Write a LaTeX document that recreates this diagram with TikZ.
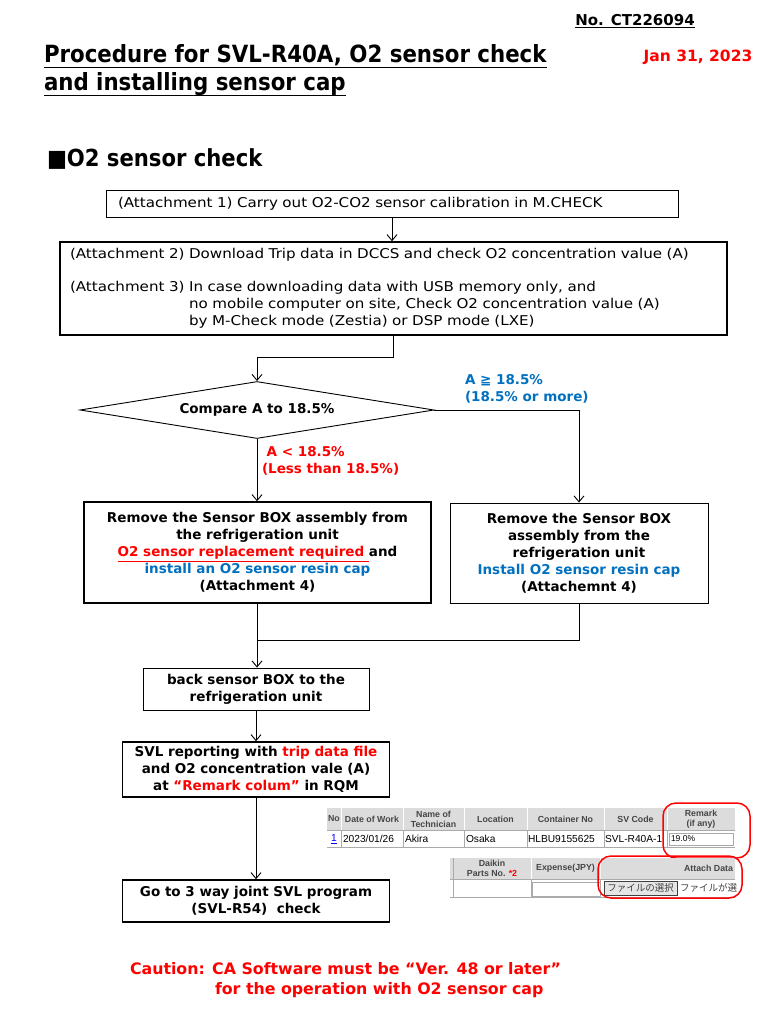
\documentclass[tikz,border=0pt]{standalone}
\usepackage{fontspec}
\setmainfont{DejaVu Sans}
\newfontfamily\widefont{DejaVu Sans}[FakeStretch=1.12]
\newfontfamily\condfont{DejaVu Sans Condensed}
\newfontfamily\arialf{Liberation Sans}
\newfontfamily\cjkf{Noto Sans CJK JP}
\usetikzlibrary{shapes.geometric,arrows.meta}
\definecolor{dred}{RGB}{255,0,0}
\definecolor{dblue}{RGB}{0,112,192}
\definecolor{hdr}{RGB}{220,220,220}
\definecolor{grid}{RGB}{170,170,170}
\definecolor{htext}{RGB}{70,70,70}
\tikzset{
  plain/.style={inner sep=0pt, outer sep=0pt},
  boxthin/.style={draw, line width=0.9pt, inner sep=0pt, align=center},
  boxthick/.style={draw, line width=1.5pt, inner sep=0pt, align=center},
  rtext/.style={font=\widefont\fontsize{13.5}{17}\selectfont},
  btext/.style={font=\bfseries\fontsize{13.5}{17}\selectfont},
  conn/.style={line width=0.9pt},
  arr/.style={line width=0.9pt, -{Straight Barb[length=6pt,width=10pt,line width=0.9pt]}},
  hfont/.style={plain, font=\arialf\bfseries\fontsize{8.8}{9.8}\selectfont, text=htext, align=center},
  dfont/.style={plain, font=\arialf\fontsize{10.2}{12}\selectfont},
  redring/.style={draw=dred, line width=1.5pt, rounded corners=13pt},
}
\begin{document}
\begin{tikzpicture}[x=1pt,y=-1pt]
\useasboundingbox (0,0) rectangle (768,1024);
\fill[white] (0,0) rectangle (768,1024);

% header
\node[plain, font=\bfseries\fontsize{15}{17}\selectfont] (docno) at (635,21) {\underline{No. CT226094}};
\node[plain, anchor=base west, font=\condfont\bfseries\fontsize{23.7}{28}\selectfont] (t1) at (44,63) {Procedure for SVL-R40A, O2 sensor check};
\node[plain, anchor=base west, font=\condfont\bfseries\fontsize{23.7}{28}\selectfont] (t2) at (44,91) {and installing sensor cap};
\draw[line width=1.2pt] ([yshift=-4.5pt]t1.base west) -- ([yshift=-4.5pt]t1.base east);
\draw[line width=1.2pt] ([yshift=-4.5pt]t2.base west) -- ([yshift=-4.5pt]t2.base east);
\node[plain, text=dred, font=\bfseries\fontsize{15.5}{17}\selectfont] (date) at (698,57) {Jan 31, 2023};
\node[plain, anchor=base west, font=\condfont\bfseries\fontsize{23.5}{26}\selectfont] (sec) at (47,167) {■O2 sensor check};

% boxes
\node[boxthin, rtext, minimum width=572, minimum height=27, text width=548, align=left] (b1) at (392,203.5)
  {(Attachment 1) Carry out O2-CO2 sensor calibration in M.CHECK};
\node[boxthick, rtext, minimum width=667, minimum height=93, text width=647, align=left] (b2) at (393.5,288.5)
  {\begin{tabular}{@{}l@{ }l@{}}(Attachment 2) & Download Trip data in DCCS and check O2 concentration value (A)\\[16pt]
  (Attachment 3) & In case downloading data with USB memory only, and\\
   & no mobile computer on site, Check O2 concentration value (A)\\
   & by M-Check mode (Zestia) or DSP mode (LXE)\end{tabular}};

\node[draw, line width=0.9pt, diamond, aspect=6.2, minimum width=354, minimum height=57, inner sep=0pt, btext] (dm) at (257,410) {Compare A to 18.5\%};

\node[boxthick, btext, minimum width=347, minimum height=101] (lb) at (257.5,552.5)
  {Remove the Sensor BOX assembly from\\ the refrigeration unit\\
   {\color{dred}\underline{O2 sensor replacement required }}and\\
   {\color{dblue}install an O2 sensor resin cap}\\ (Attachment 4)};
\node[boxthin, btext, minimum width=258, minimum height=100] (rb) at (579,553)
  {Remove the Sensor BOX\\ assembly from the\\ refrigeration unit\\
   {\color{dblue}Install O2 sensor resin cap}\\ (Attachemnt 4)};

\node[boxthin, btext, minimum width=226, minimum height=42] (b3) at (256,689)
  {back sensor BOX to the\\ refrigeration unit};
\node[boxthick, btext, minimum width=267, minimum height=55] (b4) at (256,769.5)
  {SVL reporting with {\color{dred}trip data file}\\ and O2 concentration vale (A)\\ at {\color{dred}“Remark colum”} in RQM};
\node[boxthick, btext, minimum width=267, minimum height=42] (b5) at (256,901)
  {Go to 3 way joint SVL program\\ (SVL-R54)\ \ check};

% labels
\node[plain, anchor=west, text=dblue, btext, align=left] (lblhi) at (465,388.5) {A ≧ 18.5\%\\(18.5\% or more)};
\node[plain, anchor=west, text=dred, btext, align=left] (lbllo) at (262,460.5) {\ A < 18.5\%\\(Less than 18.5\%)};

% connectors
\coordinate (j1) at (393.5,357);
\coordinate (j2) at (257,640);
\draw[arr] (b1.south) -- (b1.south |- b2.north);
\draw[arr] (b2.south) -- (j1) -- (dm.north |- j1) -- (dm.north);
\draw[arr] (dm.east) -| (rb.north);
\draw[arr] (dm.south) -- (dm.south |- lb.north);
\draw[conn] (lb.south) -- (lb.south |- j2);
\draw[conn] (rb.south) |- (j2);
\draw[arr] (j2) -- (j2 |- b3.north);
\draw[arr] (b3.south) -- (b3.south |- b4.north);
\draw[arr] (b4.south) -- (b4.south |- b5.north);

% caution
\node[plain, text=dred, font=\bfseries\fontsize{15.8}{21}\selectfont, anchor=west] (caut1) at (130,969) {Caution: CA Software must be “Ver. 48 or later”};
\node[plain, text=dred, font=\bfseries\fontsize{15.8}{21}\selectfont, anchor=west] (caut2) at (215,990) {for the operation with O2 sensor cap};

% table 1 (RQM screenshot)
\fill[hdr] (327,808) rectangle (735,830);
\draw[grid, line width=0.6pt] (327,830) -- (735,830);
\draw[grid, line width=0.8pt] (327,847) -- (735,847);
\foreach \xx in {341,403,464,527,604,667} {\draw[white, line width=0.8pt] (\xx,808) -- (\xx,830); \draw[grid, line width=0.5pt] (\xx,830) -- (\xx,847);}
\node[hfont] (h1) at (334,819) {No};
\node[hfont] (h2) at (372,819) {Date of Work};
\node[hfont] (h3) at (433.5,819) {Name of\\Technician};
\node[hfont] (h4) at (495.5,819) {Location};
\node[hfont] (h5) at (565.5,819) {Container No};
\node[hfont] (h6) at (635.5,819) {SV Code};
\node[hfont] (h7) at (701,819) {Remark\\(if any)};
\node[dfont, text=blue] (d1) at (334,839) {\underline{1}};
\node[dfont, anchor=west] (d2) at (343,839) {2023/01/26};
\node[dfont, anchor=west] (d3) at (405,839) {Akira};
\node[dfont, anchor=west] (d4) at (466,839) {Osaka};
\node[dfont, anchor=west] (d5) at (528,839) {HLBU9155625};
\node[dfont, anchor=west] (d6) at (605,839) {SVL-R40A-1};
\draw[grid, line width=0.6pt] (669,833) rectangle (733,845);
\node[plain, font=\arialf\fontsize{8.5}{9}\selectfont, anchor=west] (d7) at (671,839) {19.0\%};
\draw[redring] (663,803) rectangle (750,858);

% table 2
\fill[hdr] (450,858) rectangle (735,879);
\draw[grid, line width=0.6pt] (450,879) -- (735,879);
\draw[grid, line width=0.8pt] (450,897) -- (735,897);
\foreach \xx in {453,531,600} {\draw[white, line width=0.8pt] (\xx,858) -- (\xx,879); \draw[grid, line width=0.5pt] (\xx,879) -- (\xx,897);}
\draw[grid, line width=0.5pt] (453,858) -- (453,897);
\node[hfont] (k1) at (492,868.5) {Daikin\\Parts No. {\color{dred}*2}};
\node[hfont] (k2) at (565.5,868.5) {Expense(JPY)};
\node[hfont, anchor=east] (k3) at (733,868.5) {Attach Data};
\draw[grid, line width=0.6pt] (532,882) rectangle (600,896);
\node[draw=black!75, fill=black!10, line width=0.8pt, minimum width=73, minimum height=14, inner sep=0pt, font=\cjkf\fontsize{9.5}{10}\selectfont, text=black!75] (btn) at (640.5,888) {ファイルの選択};
\node[plain, anchor=west, font=\cjkf\fontsize{9.5}{10}\selectfont, text=black!75] (ftxt) at (680,888) {ファイルが選};
\draw[redring] (598,856) rectangle (742,898);
\end{tikzpicture}
\end{document}
